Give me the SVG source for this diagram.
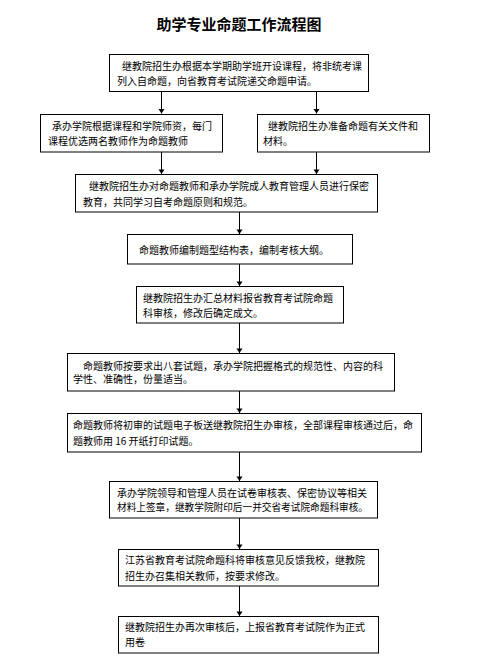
<svg xmlns="http://www.w3.org/2000/svg" width="484" height="665" viewBox="0 0 484 665">
<style>
.box{fill:#fff;stroke:#000;stroke-width:1}
.t{font-family:"Noto Sans CJK SC","Noto Sans",sans-serif;font-size:10px;fill:#000}
.title{font-family:"Noto Sans CJK SC","Noto Sans",sans-serif;font-size:15px;font-weight:bold;fill:#000}
.ln{stroke:#000;stroke-width:1;fill:none}
.ah{fill:#000}
</style>
<rect width="484" height="665" fill="#fff"/>
<text class="title" x="239" y="29.5" text-anchor="middle">助学专业命题工作流程图</text>
<g id="connectors">
<line class="ln" x1="161.5" y1="91" x2="161.5" y2="113.5"/>
<path class="ah" d="M158.5,109 L164.5,109 L161.5,113.5 Z"/>
<line class="ln" x1="316.5" y1="91" x2="316.5" y2="113.5"/>
<path class="ah" d="M313.5,109 L319.5,109 L316.5,113.5 Z"/>
<line class="ln" x1="161.5" y1="152" x2="161.5" y2="174"/>
<path class="ah" d="M158.5,169.5 L164.5,169.5 L161.5,174 Z"/>
<line class="ln" x1="316.5" y1="152" x2="316.5" y2="174"/>
<path class="ah" d="M313.5,169.5 L319.5,169.5 L316.5,174 Z"/>
<line class="ln" x1="239.5" y1="212" x2="239.5" y2="234"/>
<path class="ah" d="M236.5,229.5 L242.5,229.5 L239.5,234 Z"/>
<line class="ln" x1="239.5" y1="264" x2="239.5" y2="286"/>
<path class="ah" d="M236.5,281.5 L242.5,281.5 L239.5,286 Z"/>
<line class="ln" x1="239.5" y1="323" x2="239.5" y2="353"/>
<path class="ah" d="M236.5,348.5 L242.5,348.5 L239.5,353 Z"/>
<line class="ln" x1="239.5" y1="391" x2="239.5" y2="413"/>
<path class="ah" d="M236.5,408.5 L242.5,408.5 L239.5,413 Z"/>
<line class="ln" x1="239.5" y1="452" x2="239.5" y2="481"/>
<path class="ah" d="M236.5,476.5 L242.5,476.5 L239.5,481 Z"/>
<line class="ln" x1="239.5" y1="518" x2="239.5" y2="549"/>
<path class="ah" d="M236.5,544.5 L242.5,544.5 L239.5,549 Z"/>
<line class="ln" x1="239.5" y1="586" x2="239.5" y2="616"/>
<path class="ah" d="M236.5,611.5 L242.5,611.5 L239.5,616 Z"/>
</g>
<g id="n1">
<rect class="box" x="109.5" y="54.5" width="259" height="37"/>
<text class="t" x="122" y="70">继教院招生办根据本学期助学班开设课程，将非统考课</text>
<text class="t" x="117" y="84.5">列入自命题，向省教育考试院递交命题申请。</text>
</g>
<g id="n2a">
<rect class="box" x="40.5" y="114.5" width="182" height="37.5"/>
<text class="t" x="52" y="130">承办学院根据课程和学院师资，每门</text>
<text class="t" x="48" y="145">课程优选两名教师作为命题教师</text>
</g>
<g id="n2b">
<rect class="box" x="257.5" y="114.5" width="172" height="37.5"/>
<text class="t" x="268" y="130">继教院招生办准备命题有关文件和</text>
<text class="t" x="263" y="145">材料。</text>
</g>
<g id="n3">
<rect class="box" x="75.5" y="174.5" width="302" height="37.5"/>
<text class="t" x="89" y="190">继教院招生办对命题教师和承办学院成人教育管理人员进行保密</text>
<text class="t" x="83" y="205.5">教育，共同学习自考命题原则和规范。</text>
</g>
<g id="n4">
<rect class="box" x="127.5" y="234.5" width="225" height="29.5"/>
<text class="t" x="139" y="254">命题教师编制题型结构表，编制考核大纲。</text>
</g>
<g id="n5">
<rect class="box" x="136.5" y="286.5" width="207" height="36.5"/>
<text class="t" x="143" y="302">继教院招生办汇总材料报省教育考试院命题</text>
<text class="t" x="143" y="316.5">科审核，修改后确定成文。</text>
</g>
<g id="n6">
<rect class="box" x="67.5" y="353.5" width="327" height="37.5"/>
<text class="t" x="83" y="369.5">命题教师按要求出八套试题，承办学院把握格式的规范性、内容的科</text>
<text class="t" x="73" y="383">学性、准确性，份量适当。</text>
</g>
<g id="n7">
<rect class="box" x="67.5" y="413.5" width="354" height="38.5"/>
<text class="t" x="73" y="429" textLength="340" lengthAdjust="spacing">命题教师将初审的试题电子板送继教院招生办审核，全部课程审核通过后，命</text>
<text class="t" x="73" y="444.5">题教师用 16 开纸打印试题。</text>
</g>
<g id="n8">
<rect class="box" x="109.5" y="481.5" width="268" height="36.5"/>
<text class="t" x="117" y="497">承办学院领导和管理人员在试卷审核表、保密协议等相关</text>
<text class="t" x="117" y="511" textLength="251" lengthAdjust="spacingAndGlyphs">材料上签章，继教学院附印后一并交省考试院命题科审核。</text>
</g>
<g id="n9">
<rect class="box" x="118.5" y="549.5" width="260" height="36.5"/>
<text class="t" x="125" y="564">江苏省教育考试院命题科将审核意见反馈我校，继教院</text>
<text class="t" x="125" y="579.5">招生办召集相关教师，按要求修改。</text>
</g>
<g id="n10">
<rect class="box" x="118.5" y="616.5" width="260" height="36.5"/>
<text class="t" x="125" y="631">继教院招生办再次审核后，上报省教育考试院作为正式</text>
<text class="t" x="125" y="646">用卷</text>
</g>
</svg>
